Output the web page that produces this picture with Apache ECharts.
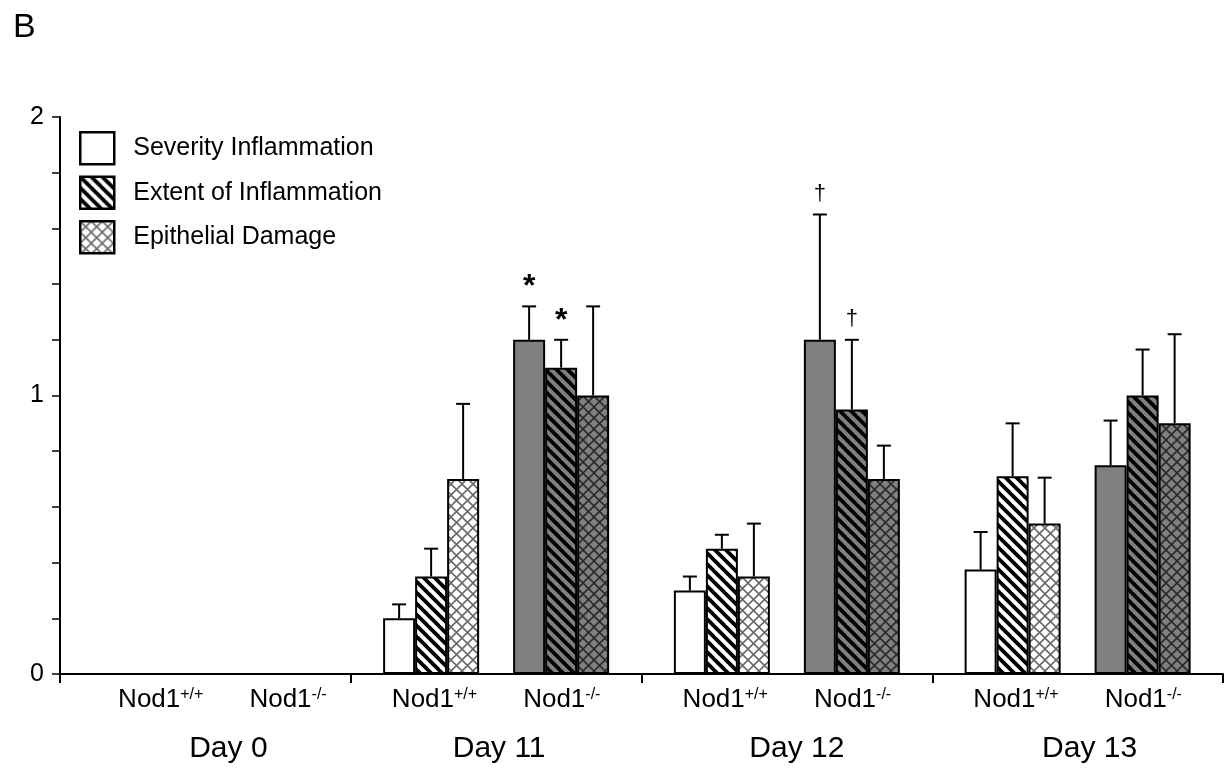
<!DOCTYPE html>
<html>
<head>
<meta charset="utf-8">
<script src="https://cdn.jsdelivr.net/npm/echarts@6/dist/echarts.min.js"></script>
<style>
  html, body { margin: 0; padding: 0; background: #fff; }
  #chart { width: 1231px; height: 770px; }
</style>
</head>
<body>
<div id="chart"></div>
<script>
// ---------------- data ----------------
const days = ['Day 0', 'Day 11', 'Day 12', 'Day 13'];
const genotypeWT = 'Nod1';
const genotypeWTSup = '+/+';
const genotypeKO = 'Nod1';
const genotypeKOSup = '-/-';
const measures = ['Severity Inflammation', 'Extent of Inflammation', 'Epithelial Damage'];

const wtSeverity     = [0, 0.20, 0.30, 0.375];
const wtSeveritySD   = [0, 0.05, 0.05, 0.135];
const wtExtent       = [0, 0.35, 0.45, 0.71];
const wtExtentSD     = [0, 0.10, 0.05, 0.19];
const wtEpithelial   = [0, 0.70, 0.35, 0.54];
const wtEpithelialSD = [0, 0.27, 0.19, 0.165];

const koSeverity     = [0, 1.20, 1.20, 0.75];
const koSeveritySD   = [0, 0.12, 0.45, 0.16];
const koExtent       = [0, 1.10, 0.95, 1.00];
const koExtentSD     = [0, 0.10, 0.25, 0.165];
const koEpithelial   = [0, 1.00, 0.70, 0.90];
const koEpithelialSD = [0, 0.32, 0.12, 0.32];

const koSeverityMark   = ['', '*', '\u2020', ''];
const koExtentMark     = ['', '*', '\u2020', ''];
const noMark           = ['', '', '', ''];

const yTicks = [0, 1, 2];

// ---------------- styles ----------------
const FONT = '"Liberation Sans", Arial, Helvetica, sans-serif';
const GRAY = '#808080';
const BAR_W = 32;
const SPACER_W = 34;

function makeTile(bg, draw) {
  const s = 11;
  const c = document.createElement('canvas');
  c.width = s; c.height = s;
  const ctx = c.getContext('2d');
  ctx.fillStyle = bg;
  ctx.fillRect(0, 0, s, s);
  draw(ctx, s);
  return { image: c, repeat: 'repeat' };
}
function stripes(bg, fg) {
  return makeTile(bg, (ctx, s) => {
    ctx.strokeStyle = fg; ctx.lineWidth = 3.8; ctx.lineCap = 'square';
    for (const o of [-s, 0, s]) { ctx.beginPath(); ctx.moveTo(o, 0); ctx.lineTo(o + s, s); ctx.stroke(); }
  });
}
function hatch(bg, fg) {
  return makeTile(bg, (ctx, s) => {
    ctx.strokeStyle = fg; ctx.lineWidth = 1.6;
    for (const o of [-s, 0, s]) {
      ctx.beginPath(); ctx.moveTo(o, 0); ctx.lineTo(o + s, s); ctx.stroke();
      ctx.beginPath(); ctx.moveTo(o, s); ctx.lineTo(o + s, 0); ctx.stroke();
    }
  });
}

const fills = {
  wtSeverity: '#ffffff',
  wtExtent: stripes('#ffffff', '#000000'),
  wtEpithelial: hatch('#ffffff', '#6a6a6a'),
  koSeverity: GRAY,
  koExtent: stripes(GRAY, '#000000'),
  koEpithelial: hatch(GRAY, '#2a2a2a')
};

// bar order inside each day: 3 WT bars, a gap, 3 KO bars
const barSpec = [
  { name: measures[0], data: wtSeverity,   sd: wtSeveritySD,   mark: noMark,         fill: fills.wtSeverity },
  { name: measures[1], data: wtExtent,     sd: wtExtentSD,     mark: noMark,         fill: fills.wtExtent },
  { name: measures[2], data: wtEpithelial, sd: wtEpithelialSD, mark: noMark,         fill: fills.wtEpithelial },
  { spacer: true },
  { name: measures[0], data: koSeverity,   sd: koSeveritySD,   mark: koSeverityMark, fill: fills.koSeverity },
  { name: measures[1], data: koExtent,     sd: koExtentSD,     mark: koExtentMark,   fill: fills.koExtent },
  { name: measures[2], data: koEpithelial, sd: koEpithelialSD, mark: noMark,         fill: fills.koEpithelial }
];

const widths = barSpec.map(b => b.spacer ? SPACER_W : BAR_W);
const totalW = widths.reduce((a, b) => a + b, 0);
let acc = -totalW / 2;
const centerOffsets = widths.map(w => { const c = acc + w / 2; acc += w; return c; });

const series = [];
barSpec.forEach((b, i) => {
  if (b.spacer) {
    series.push({
      type: 'bar', name: '_gap', barWidth: SPACER_W, barGap: '0%',
      data: days.map(() => 0), silent: true,
      itemStyle: { color: 'rgba(0,0,0,0)', borderWidth: 0 }
    });
    return;
  }
  series.push({
    type: 'bar', name: b.name, barWidth: BAR_W, barGap: '0%',
    data: b.data,
    itemStyle: { color: b.fill, borderColor: '#000', borderWidth: 2 },
    emphasis: { disabled: true }
  });
  const off = centerOffsets[i];
  const marks = b.mark;
  series.push({
    type: 'custom', name: b.name + ' SD', silent: true, z: 5,
    data: days.map((d, k) => [k, b.data[k], b.sd[k]]),
    renderItem: function (params, api) {
      const k = api.value(0), v = api.value(1), e = api.value(2);
      if (!e) return null;
      const p0 = api.coord([k, v]);
      const p1 = api.coord([k, v + e]);
      const x = p0[0] + off;
      const children = [
        { type: 'line', shape: { x1: x, y1: p0[1], x2: x, y2: p1[1] }, style: { stroke: '#000', lineWidth: 2 } },
        { type: 'line', shape: { x1: x - 7, y1: p1[1], x2: x + 7, y2: p1[1] }, style: { stroke: '#000', lineWidth: 2 } }
      ];
      const m = marks[params.dataIndex];
      if (m) {
        const isStar = m === '*';
        children.push({
          type: 'text',
          style: {
            text: m, x: x, y: p1[1] - (isStar ? 3 : 10),
            fill: '#000', align: 'center', verticalAlign: 'bottom',
            font: (isStar ? 'bold 32px ' : '22px ') + FONT
          }
        });
      }
      return { type: 'group', children: children };
    }
  });
});

const option = {
  animation: false,
  backgroundColor: '#fff',
  title: {
    text: 'B', left: 8, top: 6,
    textStyle: { fontFamily: FONT, fontSize: 34, fontWeight: 'normal', color: '#000' }
  },
  legend: {
    data: measures,
    orient: 'vertical', left: 79, top: 131, padding: 0,
    itemWidth: 34, itemHeight: 32, itemGap: 10,
    icon: 'rect',
    selectedMode: false,
    itemStyle: { borderColor: '#000', borderWidth: 2.5 },
    textStyle: { fontFamily: FONT, fontSize: 25, color: '#000', padding: [0, 0, 0, 14] }
  },
  grid: { left: 60, right: 8, top: 117, bottom: 96, containLabel: false },
  xAxis: [
    {
      type: 'category', data: days, position: 'bottom',
      axisLine: { show: true, lineStyle: { color: '#000', width: 2 } },
      axisTick: { show: true, interval: 0, length: 9, lineStyle: { color: '#000', width: 2 } },
      axisLabel: {
        interval: 0, margin: 13,
        formatter: function (v, idx) {
          const lead = idx === 0 ? '{p| }' : '';
          return lead + '{n|' + genotypeWT + '}{s|' + genotypeWTSup + '}{g| }{n|' + genotypeKO + '}{s|' + genotypeKOSup + '}';
        },
        rich: {
          n: { fontFamily: FONT, fontSize: 26, color: '#000' },
          s: { fontFamily: FONT, fontSize: 16, color: '#000', verticalAlign: 'top' },
          g: { width: 46 },
          p: { width: 34 }
        }
      }
    },
    {
      type: 'category', data: days, position: 'bottom', gridIndex: 0,
      axisLine: { show: false }, axisTick: { show: false },
      axisLabel: {
        interval: 0, margin: 60,
        formatter: function (v, idx) { return '{p' + idx + '| }{d|' + v + '}'; },
        rich: {
          d: { fontFamily: FONT, fontSize: 30, color: '#000' },
          p0: { width: 46 }, p1: { width: 6 }, p2: { width: 20 }, p3: { width: 24 }
        }
      }
    }
  ],
  yAxis: {
    type: 'value', min: yTicks[0], max: yTicks[yTicks.length - 1], interval: 1,
    axisLine: { show: true, lineStyle: { color: '#000', width: 2 } },
    axisTick: { show: true, length: 8, lineStyle: { color: '#000', width: 1.5 } },
    minorTick: { show: true, splitNumber: 5, length: 8, lineStyle: { color: '#000', width: 1.5 } },
    splitLine: { show: false },
    axisLabel: { margin: 16, fontFamily: FONT, fontSize: 25, color: '#000' }
  },
  series: series
};

const chart = echarts.init(document.getElementById('chart'), null, { renderer: 'canvas' });
chart.setOption(option);
</script>
</body>
</html>
